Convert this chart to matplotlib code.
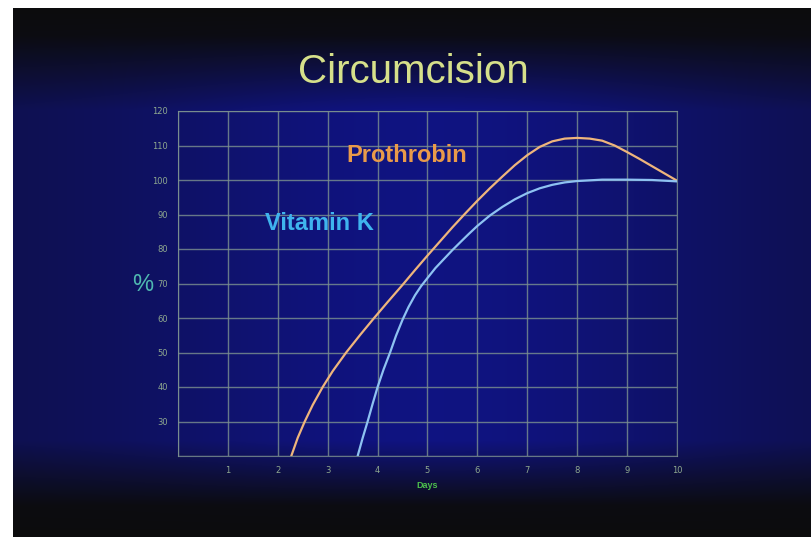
import numpy as np
import matplotlib
matplotlib.use("Agg")
import matplotlib.pyplot as plt

# values
prothrombin_days = [2.27, 2.4, 2.54, 2.7, 2.9, 3.1, 3.37, 3.65, 3.93, 4.2, 4.5, 4.75, 5.0, 5.25, 5.5, 5.75,
                    6.0, 6.25, 6.5, 6.75, 7.0, 7.25, 7.5, 7.75, 8.0, 8.25, 8.5, 8.75, 9.0, 9.25, 9.5, 9.75, 10.0]
prothrombin_pct = [20, 25.3, 30, 34.8, 40, 44.6, 50, 55.1, 60, 64.6, 69.6, 73.9, 78.1, 82.2, 86.3, 90.2,
                   94, 97.6, 101.0, 104.3, 107.2, 109.6, 111.2, 112.0, 112.2, 112.0, 111.4, 110.0, 108.1, 106.1, 104.0, 101.9, 99.8]

vitamin_k_days = [3.6, 3.7, 3.8, 3.9, 4.0, 4.12, 4.25, 4.37, 4.5, 4.62, 4.75, 4.87, 5.0, 5.16, 5.33, 5.5, 5.66,
                  5.83, 6.0, 6.25, 6.5, 6.75, 7.0, 7.25, 7.5, 7.75, 8.0, 8.5, 9.0, 9.5, 10.0]
vitamin_k_pct = [20, 25.2, 30, 35.1, 40, 45.1, 50, 54.9, 59.5, 63.2, 66.6, 69.2, 71.6, 74.5, 77.1, 79.7, 82.0,
                 84.4, 86.7, 89.7, 92.2, 94.4, 96.2, 97.6, 98.6, 99.3, 99.7, 100.1, 100.1, 100.0, 99.6]

x_ticks = [1, 2, 3, 4, 5, 6, 7, 8, 9, 10]
y_ticks = [30, 40, 50, 60, 70, 80, 90, 100, 110, 120]

W, H = 812, 545
fig = plt.figure(figsize=(W / 100, H / 100), dpi=100)
fig.patch.set_facecolor("white")

# slide background: dark top/bottom, blue middle, brighter in the centre
bg = fig.add_axes([13 / W, 8 / H, (W - 13) / W, (537 - 8) / H])
ys = np.arange(8, 537)
xs = np.arange(13, W)
v = np.interp(ys, [8, 35, 110, 440, 505, 537], [0.0, 0.06, 0.9, 0.9, 0.04, 0.0])
h = 0.5 + 0.5 * np.exp(-((xs - 430) / 320.0) ** 2)
f = v[:, None] * h[None, :]
dark = np.array([12, 12, 13]) / 255
blue = np.array([16, 20, 142]) / 255
img = dark[None, None, :] * (1 - f[..., None]) + blue[None, None, :] * f[..., None]
bg.imshow(img, aspect="auto", extent=[0, 1, 0, 1], origin="upper")
bg.axis("off")

ax = fig.add_axes([178 / W, 1 - 456 / H, (677 - 178) / W, (456 - 111) / H])
ax.set_facecolor("none")
ax.set_xlim(0, 10)
ax.set_ylim(20, 120)

grid_col = "#7d9290"
ax.set_xticks(range(0, 11))
ax.set_yticks(range(20, 121, 10))
ax.grid(True, color=grid_col, linewidth=1.0, alpha=0.8)
for s in ax.spines.values():
    s.set_color(grid_col)
    s.set_alpha(0.8)
ax.tick_params(length=0, colors="#8fa88f", labelsize=6, pad=7)
ax.set_xticklabels([""] + [str(t) for t in x_ticks])
ax.set_yticklabels([""] + [str(t) for t in y_ticks])

ax.plot(prothrombin_days, prothrombin_pct, color="#eeb57c", linewidth=1.6, solid_capstyle="round")
ax.plot(vitamin_k_days, vitamin_k_pct, color="#8ec2f2", linewidth=1.6, solid_capstyle="round")

ax.text(3.38, 107.2, "Prothrobin", color="#e99a4a", fontsize=17, fontweight="bold",
        family="Liberation Sans", va="center", ha="left")
ax.text(1.75, 87.3, "Vitamin K", color="#3fb4ee", fontsize=17, fontweight="bold",
        family="Liberation Sans", va="center", ha="left")

fig.text(413 / W, 1 - 72 / H, "Circumcision", color="#d6e08a", fontsize=29,
         family="Liberation Sans", ha="center", va="center")
fig.text(143 / W, 1 - 285 / H, "%", color="#4fb8b0", fontsize=17,
         family="Liberation Sans", ha="center", va="center")
fig.text(427 / W, 1 - 486 / H, "Days", color="#4cc04c", fontsize=6.5, fontweight="bold",
         family="Liberation Sans", ha="center", va="center")

fig.savefig("out.png", dpi=100, facecolor=fig.get_facecolor())
